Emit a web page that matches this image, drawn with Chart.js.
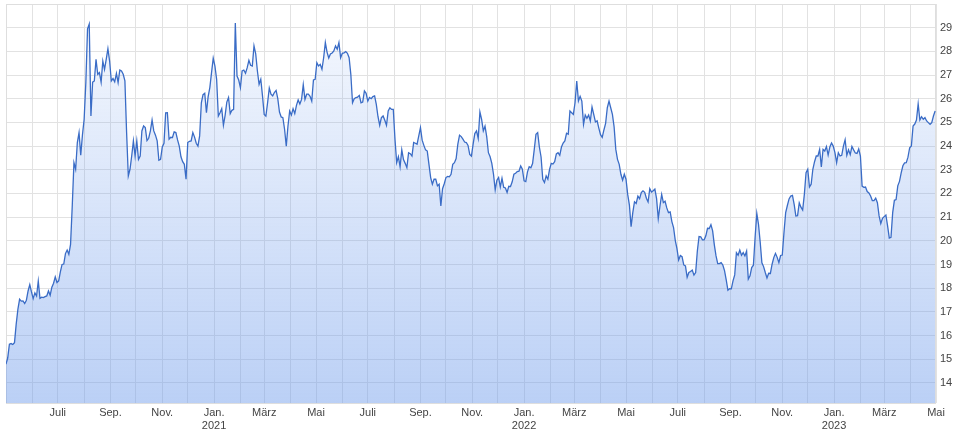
<!DOCTYPE html>
<html>
<head>
<meta charset="utf-8">
<script src="https://cdn.jsdelivr.net/npm/chart.js@4"></script>
<style>
  html, body { margin: 0; padding: 0; background: #fff; }
  #wrap { width: 960px; height: 439px; }
</style>
</head>
<body>
<div id="wrap"><canvas id="chart" width="960" height="439"></canvas></div>
<script>
// --- chart data ---
const startDate = '2020-05-01';
const endDate = '2023-05-01';
const stepDays = 2; // one closing price every two days
const monthNames = ['Jan.', 'Feb.', 'März', 'Apr.', 'Mai', 'Juni', 'Juli', 'Aug.', 'Sep.', 'Okt.', 'Nov.', 'Dez.'];
const yTicks = [14, 15, 16, 17, 18, 19, 20, 21, 22, 23, 24, 25, 26, 27, 28, 29];
const yMin = 13.15;
const yMax = 30;

const prices = [
    14.79, 15.05, 15.63, 15.66, 15.62, 15.70, 16.48, 17.11, 17.53, 17.45,
    17.46, 17.35, 17.49, 17.88, 18.15, 17.84, 17.56, 17.80, 17.67, 18.30,
    17.57, 17.62, 17.60, 17.64, 17.67, 17.88, 17.70, 18.04, 18.21, 18.48,
    18.24, 18.31, 18.69, 19.00, 19.02, 19.46, 19.61, 19.43, 19.85, 21.47,
    23.30, 23.02, 24.15, 24.57, 23.61, 24.47, 25.13, 26.68, 28.95, 29.15,
    25.27, 26.70, 26.75, 27.66, 27.03, 27.10, 26.70, 27.59, 27.24, 27.66,
    28.11, 27.59, 26.75, 26.85, 26.71, 27.07, 26.68, 27.21, 27.17, 27.03,
    26.75, 24.57, 22.74, 23.02, 23.58, 24.22, 23.58, 24.22, 23.44, 23.58,
    24.64, 24.85, 24.78, 24.23, 24.33, 24.64, 25.10, 24.64, 24.46, 24.22,
    23.40, 23.44, 23.96, 24.12, 25.40, 25.41, 24.29, 24.37, 24.36, 24.60,
    24.57, 24.26, 24.00, 23.55, 23.34, 23.23, 22.60, 24.15, 24.20, 24.22,
    24.57, 24.38, 24.12, 24.00, 24.43, 25.83, 26.17, 26.23, 25.41, 26.09,
    26.47, 27.10, 27.71, 27.38, 26.82, 25.27, 25.41, 25.58, 24.88, 25.30,
    25.86, 26.05, 25.37, 25.51, 25.55, 29.20, 26.96, 26.79, 26.47, 27.17,
    27.21, 27.07, 27.31, 27.62, 27.41, 27.38, 28.23, 27.90, 27.17, 26.61,
    26.82, 26.12, 25.34, 25.27, 25.83, 26.45, 26.19, 26.12, 26.26, 26.35,
    26.00, 25.44, 25.23, 25.20, 24.71, 24.00, 24.85, 25.48, 25.31, 25.58,
    25.37, 25.72, 25.95, 25.78, 25.97, 26.59, 25.97, 26.19, 26.19, 26.10,
    25.90, 26.79, 26.82, 27.52, 27.38, 27.45, 27.24, 27.73, 28.37, 27.97,
    27.72, 27.89, 27.93, 28.02, 28.23, 28.09, 28.37, 27.73, 27.92, 27.94,
    27.99, 27.92, 27.73, 27.03, 25.83, 26.00, 26.05, 26.07, 26.14, 25.83,
    25.86, 26.33, 26.23, 25.90, 26.05, 26.00, 26.09, 26.12, 25.76, 25.24,
    24.88, 25.20, 25.27, 25.09, 24.88, 25.48, 25.62, 25.55, 25.55, 24.29,
    23.30, 23.55, 23.12, 23.84, 23.43, 23.27, 23.09, 23.72, 23.68, 23.58,
    24.15, 24.12, 24.08, 24.43, 24.78, 24.25, 24.03, 23.84, 23.79, 23.23,
    22.67, 22.39, 22.60, 22.60, 22.32, 22.39, 21.47, 22.20, 22.41, 22.67,
    22.72, 22.70, 22.81, 23.23, 23.30, 23.47, 24.08, 24.46, 24.40, 24.29,
    24.17, 24.15, 24.03, 23.65, 23.58, 24.08, 24.53, 24.64, 24.32, 25.44,
    25.13, 24.64, 24.84, 24.40, 23.72, 23.55, 23.27, 22.81, 22.15, 22.56,
    22.67, 22.27, 22.64, 22.26, 22.23, 22.04, 22.30, 22.29, 22.49, 22.81,
    22.85, 22.92, 22.94, 23.16, 23.02, 22.53, 22.50, 22.91, 23.13, 23.08,
    23.26, 23.86, 24.50, 24.57, 23.96, 23.54, 22.60, 22.46, 22.74, 22.60,
    23.02, 23.27, 23.24, 23.34, 23.67, 23.72, 23.61, 23.96, 24.13, 24.22,
    24.54, 24.50, 25.48, 25.41, 25.34, 25.83, 26.75, 25.90, 26.10, 25.90,
    24.92, 25.31, 25.17, 25.31, 25.06, 25.65, 25.34, 25.02, 25.07, 24.76,
    24.48, 24.37, 24.68, 24.96, 25.62, 25.90, 25.62, 25.34, 24.81, 23.86,
    23.44, 23.23, 22.81, 22.56, 22.81, 22.60, 21.96, 21.51, 20.60, 21.19,
    21.65, 21.58, 21.89, 21.78, 22.04, 22.11, 22.05, 21.80, 21.64, 22.20,
    22.06, 22.11, 22.18, 21.78, 20.94, 21.47, 21.96, 21.61, 21.67, 21.39,
    21.19, 21.22, 20.81, 20.56, 20.02, 19.67, 19.19, 19.38, 19.33, 18.98,
    18.94, 18.46, 18.66, 18.70, 18.76, 18.55, 18.66, 19.57, 20.18, 20.17,
    20.04, 20.04, 20.21, 20.53, 20.52, 20.68, 20.42, 19.83, 19.36, 19.04,
    19.04, 19.08, 18.98, 18.74, 18.35, 17.91, 17.98, 17.97, 18.31, 18.56,
    19.50, 19.39, 19.61, 19.39, 19.50, 19.36, 19.57, 18.38, 18.52, 18.87,
    18.97, 20.14, 21.16, 20.70, 19.95, 19.07, 18.91, 18.66, 18.43, 18.63,
    18.62, 19.01, 19.29, 19.47, 19.30, 19.08, 19.38, 19.40, 20.35, 21.19,
    21.49, 21.77, 21.89, 21.92, 21.54, 21.05, 21.06, 21.60, 21.42, 21.30,
    21.96, 22.88, 23.02, 22.27, 22.39, 23.02, 23.34, 23.58, 23.58, 23.86,
    23.12, 23.86, 23.79, 23.98, 23.62, 23.96, 24.13, 24.00, 23.72, 23.30,
    23.72, 23.58, 23.61, 24.00, 24.27, 23.61, 23.84, 23.64, 23.98, 23.84,
    23.71, 23.69, 23.88, 23.58, 22.31, 22.26, 22.27, 22.08, 22.02, 21.89,
    21.70, 21.70, 21.80, 21.61, 21.05, 20.73, 20.95, 21.02, 21.09, 20.63,
    20.12, 20.15, 21.19, 21.71, 21.74, 22.32, 22.51, 22.87, 23.17, 23.29,
    23.30, 23.53, 23.93, 24.00, 24.85, 24.93, 25.10, 25.78, 25.10, 25.24,
    25.13, 25.20, 25.06, 24.99, 24.92, 24.99, 25.27, 25.48
];

// --- helpers ---
const DAY_MS = 86400000;
const toUTC = (s) => { const p = s.split('-').map(Number); return Date.UTC(p[0], p[1] - 1, p[2]); };
const startMs = toUTC(startDate);
const totalDays = (toUTC(endDate) - startMs) / DAY_MS;

// month starts between start and end, used as x gridlines
const monthTicks = [];
{
    const d = new Date(startMs);
    let y = d.getUTCFullYear(), m = d.getUTCMonth();
    while (true) {
        const ms = Date.UTC(y, m, 1);
        const day = (ms - startMs) / DAY_MS;
        if (day > totalDays) break;
        monthTicks.push({ value: day, month: m, year: y });
        m++;
        if (m > 11) { m = 0; y++; }
    }
}

const points = prices.map((p, i) => ({ x: i * stepDays, y: p }));

// frame around the plot area
const framePlugin = {
    id: 'frame',
    beforeDatasetsDraw(chart) {
        const { ctx, chartArea: a } = chart;
        ctx.save();
        ctx.strokeStyle = '#dedede';
        ctx.lineWidth = 1;
        ctx.strokeRect(a.left + 0.5, a.top + 0.5, a.right - a.left - 1, a.bottom - a.top);
        ctx.restore();
    }
};

const fillGradient = (context) => {
    const { ctx, chartArea } = context.chart;
    if (!chartArea) return 'rgba(110,155,235,0.3)';
    const g = ctx.createLinearGradient(0, chartArea.top, 0, chartArea.bottom);
    g.addColorStop(0, 'rgba(110,155,235,0.06)');
    g.addColorStop(1, 'rgba(110,155,235,0.47)');
    return g;
};

// keep the plot edges where they are, no label overhang padding
const noOverhang = (scale) => {
    scale.paddingTop = 0;
    scale.paddingBottom = 0;
    scale.paddingLeft = 0;
    scale.paddingRight = 0;
};

const ctx = document.getElementById('chart').getContext('2d');
new Chart(ctx, {
    type: 'line',
    data: {
        datasets: [{
            data: points,
            borderColor: '#3a6cc6',
            borderWidth: 1.3,
            backgroundColor: fillGradient,
            fill: 'start',
            pointRadius: 0,
            tension: 0
        }]
    },
    options: {
        responsive: false,
        animation: false,
        layout: { padding: { left: 6, top: 4, right: 0, bottom: 0 } },
        plugins: { legend: { display: false }, tooltip: { enabled: false } },
        scales: {
            x: {
                type: 'linear',
                min: 0,
                max: totalDays,
                afterBuildTicks: (scale) => { scale.ticks = monthTicks.map(t => ({ value: t.value })); },
                afterFit: (scale) => { scale.height = 36; noOverhang(scale); },
                grid: { color: '#e2e2e2', drawTicks: false },
                border: { display: false },
                ticks: {
                    autoSkip: false,
                    maxRotation: 0,
                    padding: 3,
                    color: '#444',
                    font: { family: '"Liberation Sans", Arial, sans-serif', size: 11 },
                    callback: (value, index) => {
                        const t = monthTicks[index];
                        if (!t || index === 0 || t.month % 2 === 1) return '';
                        const name = monthNames[t.month];
                        return t.month === 0 ? [name, String(t.year)] : name;
                    }
                }
            },
            y: {
                position: 'right',
                min: yMin,
                max: yMax,
                afterBuildTicks: (scale) => { scale.ticks = yTicks.map(v => ({ value: v })); },
                afterFit: (scale) => { scale.width = 24; noOverhang(scale); },
                grid: { color: '#e2e2e2', drawTicks: false },
                border: { display: false },
                ticks: {
                    padding: 4,
                    color: '#444',
                    font: { family: '"Liberation Sans", Arial, sans-serif', size: 11 }
                }
            }
        }
    },
    plugins: [framePlugin]
});
</script>
</body>
</html>
